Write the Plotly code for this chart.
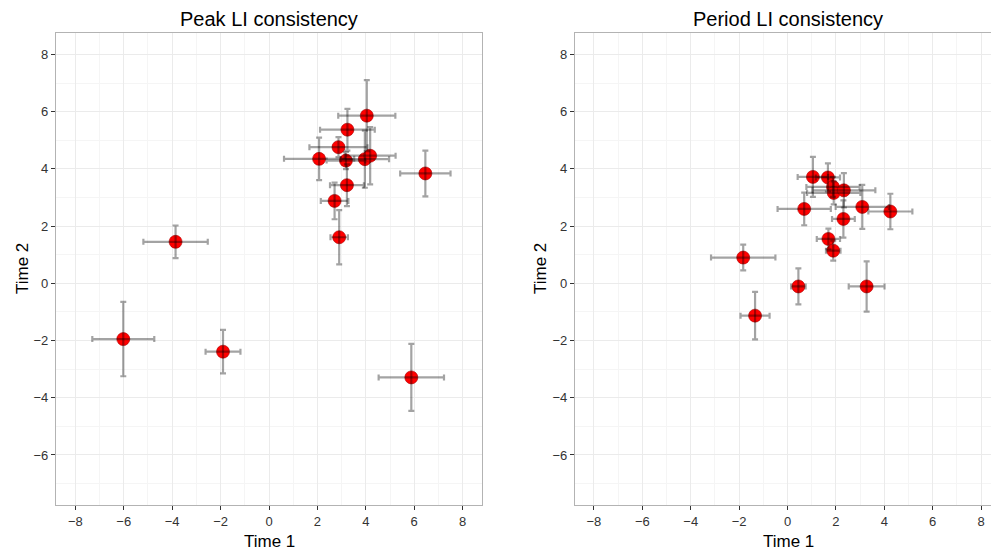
import plotly.graph_objects as go

# ---- data ----
peak_x = [4.04, 3.24, 2.87, 2.07, 3.18, 3.96, 4.18, 3.22, 2.71, 2.90, 6.46, -3.86, -6.02, -1.90, 5.88]
peak_y = [5.86, 5.37, 4.76, 4.35, 4.29, 4.34, 4.46, 3.43, 2.88, 1.61, 3.84, 1.45, -1.95, -2.39, -3.29]
peak_xerr = [1.18, 1.13, 1.20, 1.45, 0.80, 1.00, 1.05, 0.70, 0.57, 0.36, 1.04, 1.33, 1.28, 0.72, 1.35]
peak_yerr = [1.24, 0.73, 0.35, 0.74, 0.30, 1.00, 1.00, 0.73, 0.64, 0.95, 0.80, 0.57, 1.30, 0.76, 1.17]

per_x = [1.05, 1.67, 1.88, 1.91, 2.33, 2.31, 3.09, 0.69, 4.25, 1.69, 1.89, -1.83, 0.45, 3.27, -1.34]
per_y = [3.72, 3.70, 3.37, 3.16, 3.25, 2.25, 2.67, 2.60, 2.51, 1.55, 1.14, 0.90, -0.11, -0.11, -1.13]
per_xerr = [0.63, 0.50, 1.10, 1.10, 1.30, 0.47, 1.10, 1.10, 0.91, 0.48, 0.30, 1.33, 0.30, 0.74, 0.60]
per_yerr = [0.70, 0.49, 0.35, 0.40, 0.60, 0.65, 0.77, 0.57, 0.62, 0.36, 0.35, 0.45, 0.63, 0.88, 0.83]

titles = ["Peak LI consistency", "Period LI consistency"]
x_title = "Time 1"
y_title = "Time 2"
tick_vals = [-8, -6, -4, -2, 0, 2, 4, 6, 8]

W, H = 991, 553
FONT = "Liberation Sans, Arial, sans-serif"
ERR_COLOR = "rgba(0,0,0,0.36)"

fig = go.Figure()

panels = [
    (peak_x, peak_y, peak_xerr, peak_yerr, "x", "y"),
    (per_x, per_y, per_xerr, per_yerr, "x2", "y2"),
]
for xs, ys, xe, ye, xa, ya in panels:
    fig.add_trace(go.Scatter(
        x=xs, y=ys, mode="markers", xaxis=xa, yaxis=ya, showlegend=False,
        marker=dict(size=13, color="#ff0000", line=dict(color="rgba(170,0,0,0.6)", width=1)),
        hoverinfo="skip"))
    fig.add_trace(go.Scatter(
        x=xs, y=ys, mode="markers", xaxis=xa, yaxis=ya, showlegend=False,
        marker=dict(size=1, opacity=0),
        error_x=dict(type="data", array=xe, color=ERR_COLOR, thickness=2.2, width=3),
        error_y=dict(type="data", array=ye, color=ERR_COLOR, thickness=2.2, width=3),
        hoverinfo="skip"))

y_bot = 1 - 505 / H
y_top = 1 - 33 / H
left_dom = [56 / W, 482 / W]
right_dom = [575 / W, 1.0]

axis_common = dict(
    tickvals=tick_vals, ticks="outside", ticklen=4, tickwidth=1, tickcolor="#333333",
    tickfont=dict(family=FONT, size=13, color="#333333"),
    showgrid=True, gridcolor="#ebebeb", gridwidth=1,
    minor=dict(dtick=1, tick0=0, showgrid=True, gridcolor="#f5f5f5", gridwidth=1, ticks=""),
    zeroline=False, showline=True, linecolor="#b3b3b3", linewidth=1.2,
)

fig.update_layout(
    width=W, height=H,
    margin=dict(l=0, r=0, t=0, b=0),
    paper_bgcolor="white", plot_bgcolor="white",
    font=dict(family=FONT),
    xaxis=dict(domain=left_dom, range=[-8.8, 8.8], anchor="y", mirror=True, **axis_common),
    yaxis=dict(domain=[y_bot, y_top], range=[-7.75, 8.75], anchor="x", mirror=True, **axis_common),
    xaxis2=dict(domain=right_dom, range=[(575 - 787.5) / 24.2, (991 - 787.5) / 24.2], anchor="y2",
                mirror=True, **axis_common),
    yaxis2=dict(domain=[y_bot, y_top], range=[-7.75, 8.75], anchor="x2", mirror=False, **axis_common),
)

ann = []
for t, cx in zip(titles, [269 / W, 788 / W]):
    ann.append(dict(text=t, x=cx, y=1 - 19 / H, xref="paper", yref="paper",
                    xanchor="center", yanchor="middle", showarrow=False,
                    font=dict(family=FONT, size=20, color="black")))
    ann.append(dict(text=x_title, x=cx, y=1 - 541 / H, xref="paper", yref="paper",
                    xanchor="center", yanchor="middle", showarrow=False,
                    font=dict(family=FONT, size=17, color="black")))
for cx in [22 / W, 540 / W]:
    ann.append(dict(text=y_title, x=cx, y=1 - 269 / H, xref="paper", yref="paper",
                    xanchor="center", yanchor="middle", showarrow=False, textangle=-90,
                    font=dict(family=FONT, size=17, color="black")))
fig.update_layout(annotations=ann)

fig.write_html("out.html")
